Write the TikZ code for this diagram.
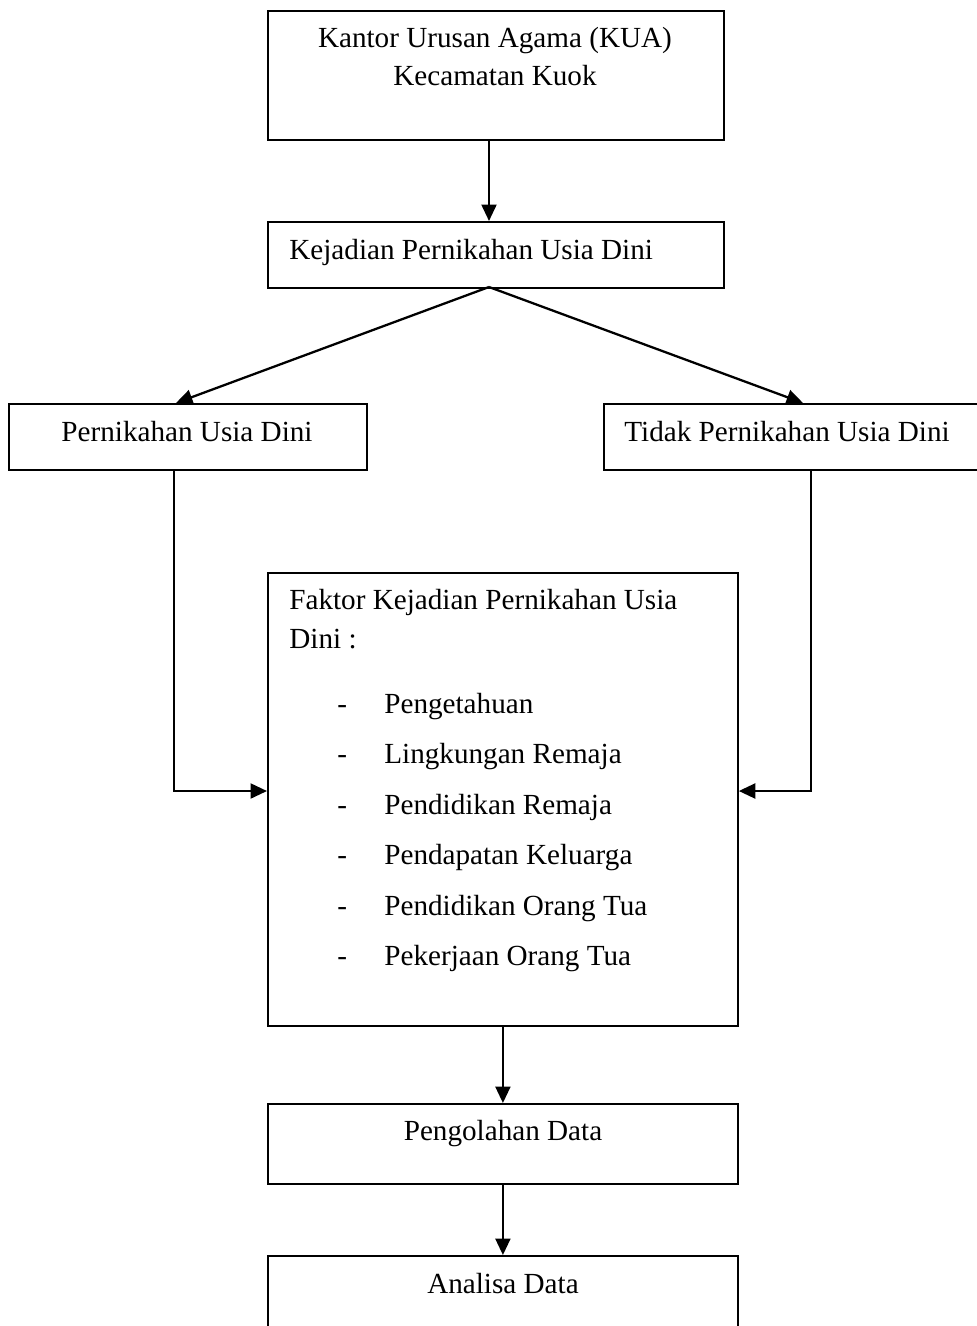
\documentclass[tikz,border=0pt]{standalone}
\usepackage{fontspec}
\setmainfont{Liberation Serif}
\usetikzlibrary{arrows.meta,positioning}

\begin{document}
\begin{tikzpicture}[
  x=0.02cm,y=-0.02cm,
  flowbox/.style={
    draw,
    line width=1.1pt,
    anchor=north west,
    inner sep=0pt
  },
  flowtext/.style={
    inner sep=0pt,
    font=\fontsize{16.6}{20}\selectfont
  },
  arrow/.style={-{Triangle[length=0.33cm,width=0.30cm]},line width=1.3pt}
]
  \path[use as bounding box,clip] (0,0) rectangle (977,1326);

  % boxes
  \node[flowbox,minimum width=9.12cm,minimum height=2.58cm] (kua) at (267,10) {};
  \node[flowbox,minimum width=9.12cm,minimum height=1.32cm] (kejadian) at (267,221) {};
  \node[flowbox,minimum width=7.16cm,minimum height=1.32cm] (pernikahan) at (8,403) {};
  \node[flowbox,minimum width=7.60cm,minimum height=1.32cm] (tidak) at (603,403) {};
  \node[flowbox,minimum width=9.40cm,minimum height=9.06cm] (faktor) at (267,572) {};
  \node[flowbox,minimum width=9.40cm,minimum height=1.60cm] (pengolahan) at (267,1103) {};
  \node[flowbox,minimum width=9.40cm,minimum height=2.00cm] (analisa) at (267,1255) {};

  % texts
  \node[flowtext,anchor=base] (kuatitle) at (495,47) {Kantor Urusan Agama (KUA)};
  \node[flowtext,anchor=base] (kuaplace) at (495,85) {Kecamatan Kuok};
  \node[flowtext,anchor=base west] (kejadiantext) at (289,259) {Kejadian Pernikahan Usia Dini};
  \node[flowtext,anchor=base] (pernikahantext) at (187,441) {Pernikahan Usia Dini};
  \node[flowtext,anchor=base west] (tidaktext) at (624,441) {Tidak Pernikahan Usia Dini};
  \node[flowtext,anchor=base west] (faktortitle) at (289,609) {Faktor Kejadian Pernikahan Usia};
  \node[flowtext,anchor=base west] (faktortitlecont) at (289,648) {Dini :};
  \node[flowtext,anchor=base west] (dasha) at (337,713) {-};
  \node[flowtext,anchor=base west] (itema) at (384,713) {Pengetahuan};
  \node[flowtext,anchor=base west] (dashb) at (337,763.5) {-};
  \node[flowtext,anchor=base west] (itemb) at (384,763.5) {Lingkungan Remaja};
  \node[flowtext,anchor=base west] (dashc) at (337,814) {-};
  \node[flowtext,anchor=base west] (itemc) at (384,814) {Pendidikan Remaja};
  \node[flowtext,anchor=base west] (dashd) at (337,864.5) {-};
  \node[flowtext,anchor=base west] (itemd) at (384,864.5) {Pendapatan Keluarga};
  \node[flowtext,anchor=base west] (dashe) at (337,915) {-};
  \node[flowtext,anchor=base west] (iteme) at (384,915) {Pendidikan Orang Tua};
  \node[flowtext,anchor=base west] (dashf) at (337,965.5) {-};
  \node[flowtext,anchor=base west] (itemf) at (384,965.5) {Pekerjaan Orang Tua};
  \node[flowtext,anchor=base] (pengolahantext) at (503,1140) {Pengolahan Data};
  \node[flowtext,anchor=base] (analisatext) at (503,1293) {Analisa Data};

  % connectors
  \coordinate (split) at (489,287);
  \coordinate (masukkiri) at (174,791);
  \coordinate (masukkanan) at (811,791);
  \draw[arrow] (kua.south -| split) -- (kejadian.north -| split);
  \draw[arrow] (split) -- ([xshift=0.04cm]pernikahan.north -| masukkiri);
  \draw[arrow] (split) -- ([xshift=-0.16cm]tidak.north -| masukkanan);
  \draw[arrow] (pernikahan.south -| masukkiri) -- (masukkiri) -- (faktor.west |- masukkiri);
  \draw[arrow] (tidak.south -| masukkanan) -- (masukkanan) -- (faktor.east |- masukkanan);
  \draw[arrow] (faktor) -- (pengolahan);
  \draw[arrow] (pengolahan) -- (analisa);
\end{tikzpicture}
\end{document}
